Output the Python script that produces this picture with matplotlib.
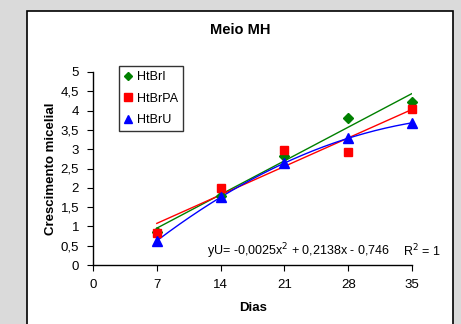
import numpy as np
import matplotlib
matplotlib.use("Agg")
import matplotlib.pyplot as plt
from matplotlib.patches import Rectangle

plt.rcParams['font.family'] = ['Liberation Sans', 'DejaVu Sans']

dias = [7, 14, 21, 28, 35]
htbri = [0.85, 1.80, 2.83, 3.80, 4.21]
htbrpa = [0.82, 2.00, 2.98, 2.92, 4.05]
htbru = [0.63, 1.75, 2.64, 3.29, 3.68]
xticks = [0, 7, 14, 21, 28, 35]
yticks = [0, 0.5, 1, 1.5, 2, 2.5, 3, 3.5, 4, 4.5, 5]
ytick_labels = ['0', '0,5', '1', '1,5', '2', '2,5', '3', '3,5', '4', '4,5', '5']
equation = "yU= -0,0025x$^2$ + 0,2138x - 0,746"
r2_text = "R$^2$ = 1"

W, H = 461, 324
fig = plt.figure(figsize=(W / 100, H / 100), dpi=100, facecolor='#dadada')

# chart area box
fig.patches.append(Rectangle((26.5 / W, -0.05), (453.3 - 26.5) / W, 1.05 - 10.5 / H,
                             transform=fig.transFigure, facecolor='white',
                             edgecolor='black', linewidth=1.2, zorder=-5))

ax = fig.add_axes([93 / W, 1 - 265 / H, (412 - 93) / W, (265 - 72) / H])
ax.set_zorder(2)
ax.set_facecolor('none')
ax.set_xlim(0, 35)
ax.set_ylim(0, 5)
for s in ['top', 'right']:
    ax.spines[s].set_visible(False)
ax.spines['left'].set_linewidth(1.0)
ax.spines['bottom'].set_linewidth(1.0)
ax.set_xticks(xticks)
ax.set_yticks(yticks)
ax.set_yticklabels(ytick_labels)
ax.tick_params(axis='both', labelsize=9.5, length=4, width=0.8, direction='out', pad=4)
ax.tick_params(axis='y', pad=6)
ax.tick_params(axis='x', pad=6)

x = np.array(dias, dtype=float)
xx = np.linspace(7, 35, 200)

# trendlines
pg = np.polyfit(x, htbri, 1)
pr = np.polyfit(x, htbrpa, 1)
pb = np.polyfit(x, htbru, 2)
ax.plot(xx, np.polyval(pg, xx), color='#008000', lw=1.0, zorder=2)
ax.plot(xx, np.polyval(pr, xx), color='#ff0000', lw=1.0, zorder=2)
ax.plot(xx, np.polyval(pb, xx), color='#0000ff', lw=1.0, zorder=2)

ax.plot(dias, htbri, linestyle='none', marker='D', color='#008000', ms=5, label='HtBrI', zorder=3, clip_on=False)
ax.plot(dias, htbrpa, linestyle='none', marker='s', color='#ff0000', ms=6, label='HtBrPA', zorder=3.5, clip_on=False)
ax.plot(dias, htbru, linestyle='none', marker='^', color='#0000ff', ms=7, label='HtBrU', zorder=4, clip_on=False)

leg = ax.legend(loc='upper left', bbox_to_anchor=(26 / 319, 1.03), fontsize=9,
                frameon=True, fancybox=False, edgecolor='black', handlelength=0.7,
                handletextpad=0.3, borderpad=0.4, labelspacing=0.75, borderaxespad=0,
                markerscale=0.85)
leg.get_frame().set_linewidth(1.0)

fig.text(240 / W, 1 - 30 / H, 'Meio MH', fontsize=10.5, fontweight='bold', ha='center', va='center')
fig.text(51 / W, 1 - 169 / H, 'Crescimento micelial', fontsize=9.5, fontweight='bold',
         rotation=90, ha='center', va='center')
fig.text(253 / W, 1 - 308 / H, 'Dias', fontsize=9.5, fontweight='bold', ha='center', va='center')
fig.text(207 / W, 1 - 251 / H, equation, fontsize=9, ha='left', va='center')
fig.text(403 / W, 1 - 251 / H, r2_text, fontsize=9, ha='left', va='center')

fig.savefig('out.png', dpi=100, facecolor=fig.get_facecolor())
